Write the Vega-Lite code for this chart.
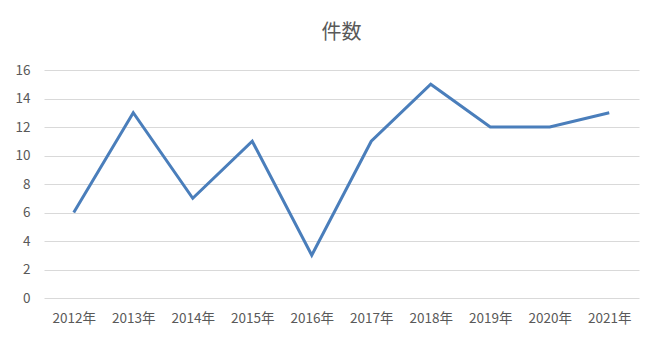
{
  "$schema": "https://vega.github.io/schema/vega-lite/v6.json",
  "autosize": "none",
  "width": 595,
  "height": 228,
  "padding": {"left": 44, "top": 70, "right": 21, "bottom": 45},
  "background": "white",
  "title": {"text": "件数", "anchor": "middle", "frame": "group", "fontSize": 20, "font": "Noto Sans CJK JP", "fontWeight": "normal", "color": "#595959", "offset": 20},
  "config": {"view": {"stroke": null}, "font": "Noto Sans CJK JP"},
  "data": {"values": [
    {"year": "2012年", "count": 6},
    {"year": "2013年", "count": 13},
    {"year": "2014年", "count": 7},
    {"year": "2015年", "count": 11},
    {"year": "2016年", "count": 3},
    {"year": "2017年", "count": 11},
    {"year": "2018年", "count": 15},
    {"year": "2019年", "count": 12},
    {"year": "2020年", "count": 12},
    {"year": "2021年", "count": 13}
  ]},
  "mark": {"type": "line", "color": "#4A7EBB", "strokeWidth": 3, "strokeJoin": "miter"},
  "encoding": {
    "x": {"field": "year", "type": "ordinal", "sort": null, "scale": {"padding": 0.5},
      "axis": {"title": null, "labelAngle": 0, "ticks": false, "domain": false, "labelColor": "#595959", "labelFontSize": 13.5, "labelPadding": 13}},
    "y": {"field": "count", "type": "quantitative", "scale": {"domain": [0, 16]},
      "axis": {"title": null, "values": [0, 2, 4, 6, 8, 10, 12, 14, 16], "ticks": false, "domain": false, "gridColor": "#d9d9d9", "gridWidth": 1, "labelColor": "#595959", "labelFontSize": 13.5, "labelPadding": 14}}
  }
}
